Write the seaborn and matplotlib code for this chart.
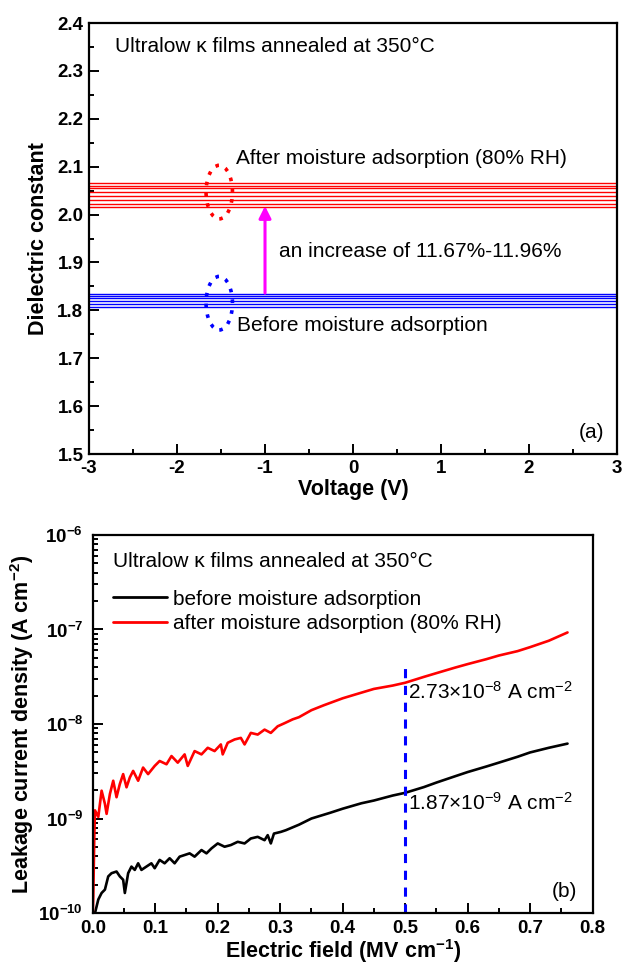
import numpy as np
import pandas as pd
import matplotlib
matplotlib.use("Agg")
import matplotlib.pyplot as plt
import seaborn as sns
from matplotlib.patches import Ellipse
from matplotlib.lines import Line2D
from matplotlib.ticker import MultipleLocator, LogLocator, FuncFormatter, NullFormatter

# ---------------- data: panel (a) ----------------
voltage_range = [-3.0, 3.0]
k_after = [2.065, 2.060, 2.055, 2.047, 2.039, 2.031, 2.023, 2.016]
k_before = [1.835, 1.831, 1.826, 1.820, 1.813, 1.806]

# ---------------- data: panel (b) ----------------
field_after = [0.0, 0.0008, 0.0024, 0.0035, 0.0088, 0.0141, 0.0194, 0.0221, 0.0274, 0.0327,
               0.0380, 0.0433, 0.0486, 0.0540, 0.0593, 0.0646, 0.0726, 0.0805, 0.0885, 0.0991,
               0.107, 0.118, 0.126, 0.136, 0.147, 0.152, 0.163, 0.174, 0.184, 0.195,
               0.205, 0.208, 0.216, 0.227, 0.237, 0.243, 0.253, 0.264, 0.275, 0.285,
               0.296, 0.307, 0.32, 0.33, 0.35, 0.37, 0.40, 0.42, 0.45, 0.48,
               0.50, 0.53, 0.55, 0.58, 0.60, 0.63, 0.65, 0.68, 0.70, 0.73, 0.76]
j_after = [1.0e-10, 1.5e-10, 6.4e-10, 1.22e-9, 1.04e-9, 1.97e-9, 1.43e-9, 1.12e-9, 1.82e-9, 2.51e-9,
           1.68e-9, 2.32e-9, 2.95e-9, 2.14e-9, 2.72e-9, 3.19e-9, 2.51e-9, 3.46e-9, 2.95e-9, 3.6e-9,
           4.06e-9, 3.75e-9, 4.58e-9, 3.9e-9, 4.77e-9, 3.6e-9, 5.17e-9, 4.77e-9, 5.6e-9, 5.17e-9,
           6.08e-9, 4.77e-9, 6.33e-9, 6.86e-9, 7.13e-9, 6.08e-9, 8.05e-9, 7.73e-9, 8.72e-9, 8.05e-9,
           9.46e-9, 1.02e-8, 1.12e-8, 1.18e-8, 1.40e-8, 1.58e-8, 1.87e-8, 2.05e-8, 2.35e-8, 2.55e-8,
           2.73e-8, 3.15e-8, 3.45e-8, 3.95e-8, 4.30e-8, 4.85e-8, 5.30e-8, 5.90e-8, 6.50e-8, 7.60e-8, 9.3e-8]

field_before = [0.0, 0.0035, 0.0088, 0.0141, 0.0194, 0.0247, 0.0300, 0.0380, 0.0433, 0.0486,
                0.0513, 0.0566, 0.0619, 0.0672, 0.0726, 0.0779, 0.0858, 0.0938, 0.0991, 0.107,
                0.115, 0.123, 0.131, 0.139, 0.147, 0.155, 0.163, 0.174, 0.182, 0.190,
                0.200, 0.211, 0.221, 0.232, 0.243, 0.253, 0.264, 0.275, 0.280, 0.285,
                0.290, 0.301, 0.309, 0.33, 0.35, 0.38, 0.40, 0.43, 0.45, 0.48,
                0.50, 0.53, 0.55, 0.58, 0.60, 0.63, 0.65, 0.68, 0.70, 0.73, 0.76]
j_before = [1.0e-10, 1.0e-10, 1.39e-10, 1.63e-10, 1.77e-10, 2.44e-10, 2.64e-10, 2.75e-10, 2.44e-10, 2.25e-10,
            1.63e-10, 2.64e-10, 3.1e-10, 2.86e-10, 3.36e-10, 2.86e-10, 3.1e-10, 3.36e-10, 2.98e-10, 3.65e-10,
            3.36e-10, 3.8e-10, 3.36e-10, 3.95e-10, 4.11e-10, 4.28e-10, 3.95e-10, 4.64e-10, 4.28e-10, 4.83e-10,
            5.45e-10, 5.03e-10, 5.24e-10, 5.67e-10, 5.45e-10, 6.15e-10, 6.4e-10, 5.9e-10, 6.67e-10, 5.45e-10,
            6.93e-10, 7.22e-10, 7.52e-10, 8.6e-10, 1.0e-9, 1.15e-9, 1.27e-9, 1.45e-9, 1.55e-9, 1.75e-9,
            1.87e-9, 2.15e-9, 2.40e-9, 2.80e-9, 3.10e-9, 3.55e-9, 3.90e-9, 4.50e-9, 5.00e-9, 5.60e-9, 6.2e-9]

legend_labels = ["before moisture adsorption", "after moisture adsorption (80% RH)"]

# ---------------- style ----------------
sns.set_theme(style="white")
plt.rcParams['font.family'] = ['Liberation Sans', 'DejaVu Sans']
plt.rcParams['mathtext.fontset'] = 'custom'
plt.rcParams['mathtext.rm'] = 'Liberation Sans'
plt.rcParams['mathtext.it'] = 'Liberation Sans:italic'
plt.rcParams['mathtext.bf'] = 'Liberation Sans:bold'
plt.rcParams['axes.linewidth'] = 1.6
plt.rcParams['axes.edgecolor'] = 'black'
plt.rcParams['text.color'] = 'black'
plt.rcParams['axes.labelcolor'] = 'black'
plt.rcParams['xtick.color'] = 'black'
plt.rcParams['ytick.color'] = 'black'

fig = plt.figure(figsize=(6.27, 9.76), dpi=100)
ax1 = fig.add_axes([0.142, 0.5348, 0.842, 0.4416])
ax2 = fig.add_axes([0.148, 0.0645, 0.797, 0.3874])

TXT = 15
TICK = 13.5
LAB = 15.5

# ---------------- panel (a) ----------------
rows = []
for i, k in enumerate(k_after):
    for v in voltage_range:
        rows.append({"V": v, "k": k, "state": "after", "run": f"a{i}"})
for i, k in enumerate(k_before):
    for v in voltage_range:
        rows.append({"V": v, "k": k, "state": "before", "run": f"b{i}"})
df_a = pd.DataFrame(rows)
sns.lineplot(data=df_a, x="V", y="k", hue="state", units="run", estimator=None,
             palette={"after": "#ff0000", "before": "#0000ff"}, lw=1.0, legend=False, ax=ax1)

ax1.set_xlim(-3, 3)
ax1.set_ylim(1.5, 2.4)
ax1.xaxis.set_major_locator(MultipleLocator(1))
ax1.xaxis.set_minor_locator(MultipleLocator(0.5))
ax1.yaxis.set_major_locator(MultipleLocator(0.1))
ax1.yaxis.set_minor_locator(MultipleLocator(0.05))
ax1.yaxis.set_major_formatter(FuncFormatter(lambda v, p: f"{v:.1f}"))
ax1.xaxis.set_major_formatter(FuncFormatter(lambda v, p: f"{v:.0f}"))
ax1.set_xlabel("Voltage (V)", fontsize=LAB, fontweight="bold", labelpad=2)
ax1.set_ylabel("Dielectric constant", fontsize=LAB, fontweight="bold", labelpad=6)

ax1.text(-2.7, 2.35, "Ultralow \u03ba films annealed at 350\u00b0C", fontsize=TXT, va="center")
ax1.text(-1.33, 2.118, "After moisture adsorption (80% RH)", fontsize=TXT, va="center")
ax1.text(-0.84, 1.922, "an increase of 11.67%-11.96%", fontsize=TXT, va="center")
ax1.text(-1.32, 1.769, "Before moisture adsorption", fontsize=TXT, va="center")
ax1.text(2.85, 1.545, "(a)", fontsize=TXT, va="center", ha="right")

for yc, col in [(2.047, "#ff0000"), (1.815, "#0000ff")]:
    ax1.add_patch(Ellipse((-1.52, yc), 0.3, 0.112, fill=False, edgecolor=col,
                          linestyle=(0, (1, 2)), linewidth=2.6))
ax1.annotate("", xy=(-1.0, 2.018), xytext=(-1.0, 1.836),
             arrowprops=dict(arrowstyle="-|>", color="#ff00ff", lw=2.2,
                             mutation_scale=18, shrinkA=0, shrinkB=0))

# ---------------- panel (b) ----------------
df_b = pd.concat([
    pd.DataFrame({"E": field_before, "J": j_before, "state": "before"}),
    pd.DataFrame({"E": field_after, "J": j_after, "state": "after"}),
])
sns.lineplot(data=df_b, x="E", y="J", hue="state", estimator=None, sort=False,
             palette={"before": "black", "after": "#ff0000"}, lw=1.9, legend=False, ax=ax2)
ax2.set_yscale("log")
ax2.set_xlim(0, 0.8)
ax2.set_ylim(1e-10, 1e-6)
ax2.xaxis.set_major_locator(MultipleLocator(0.1))
ax2.xaxis.set_minor_locator(MultipleLocator(0.05))
ax2.xaxis.set_major_formatter(FuncFormatter(lambda v, p: f"{v:.1f}"))
ax2.yaxis.set_major_locator(LogLocator(base=10, numticks=10))
ax2.yaxis.set_minor_locator(LogLocator(base=10, subs=np.arange(2, 10), numticks=20))
ax2.yaxis.set_minor_formatter(NullFormatter())
ax2.yaxis.set_major_formatter(FuncFormatter(lambda v, p: r"$\mathbf{10^{%d}}$" % round(np.log10(v))))

ax2.vlines(0.5, 1e-10, 4.1e-8, colors="#0000ff", linestyles=(0, (3, 2.5)), lw=2.2)
ax2.text(0.505, 2.2e-8, r"2.73$\times$10$^{-8}$ A cm$^{-2}$", fontsize=TXT, va="center")
ax2.text(0.505, 1.45e-9, r"1.87$\times$10$^{-9}$ A cm$^{-2}$", fontsize=TXT, va="center")
ax2.text(0.032, 5.2e-7, "Ultralow \u03ba films annealed at 350\u00b0C", fontsize=TXT, va="center")
ax2.text(0.775, 1.7e-10, "(b)", fontsize=TXT, va="center", ha="right")

handles = [Line2D([], [], color="black", lw=2), Line2D([], [], color="#ff0000", lw=2)]
ax2.legend(handles, legend_labels, loc="upper left", bbox_to_anchor=(0.04, 0.855),
           frameon=False, fontsize=TXT, handlelength=2.6, handletextpad=0.3,
           labelspacing=0.25, borderaxespad=0, borderpad=0, labelcolor="black")

ax2.set_xlabel(r"Electric field (MV cm$^{\mathbf{-1}}$)", fontsize=LAB, fontweight="bold", labelpad=0)
ax2.set_ylabel(r"Leakage current density (A cm$^{\mathbf{-2}}$)", fontsize=LAB, fontweight="bold", labelpad=2)

for ax in (ax1, ax2):
    for s in ax.spines.values():
        s.set_visible(True)
        s.set_color("black")
        s.set_linewidth(1.6)
    ax.tick_params(axis="both", which="both", direction="in", top=False, right=False,
                   bottom=True, left=True, width=1.4, colors="black")
    ax.tick_params(which="major", length=7, labelsize=TICK, pad=4)
    ax.tick_params(which="minor", length=3.5)
    for lbl in ax.get_xticklabels() + ax.get_yticklabels():
        lbl.set_fontweight("bold")
    ax.xaxis.offsetText.set_visible(False)
    ax.yaxis.offsetText.set_visible(False)
    ax.grid(False)
ax2.tick_params(axis="y", which="major", pad=7)
ax2.tick_params(axis="x", which="major", pad=5)

fig.savefig("out.png", dpi=100)
